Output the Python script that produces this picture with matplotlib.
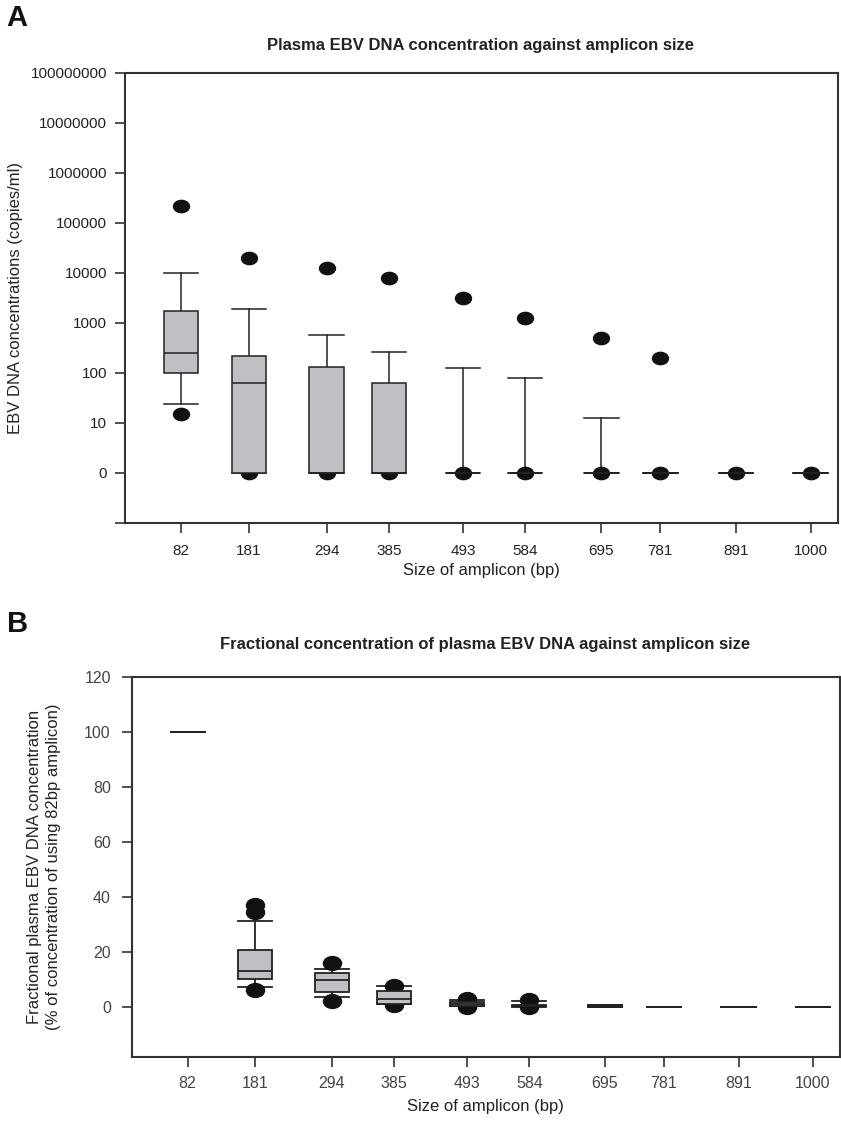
import matplotlib
matplotlib.use("Agg")
import matplotlib.pyplot as plt
from matplotlib.path import Path
from matplotlib.transforms import Affine2D
from matplotlib.ticker import FixedLocator, FixedFormatter

plt.rcParams['font.family'] = ['Liberation Sans', 'DejaVu Sans']

# amplicon sizes (bp)
sizes = [82, 181, 294, 385, 493, 584, 695, 781, 891, 1000]

# Panel A: plasma EBV DNA (copies/ml), 0 drawn at the "0" line
a_whislo = [24, 0, 0, 0, 0, 0, 0, 0, 0, 0]
a_q1 = [100, 0, 0, 0, 0, 0, 0, 0, 0, 0]
a_med = [250, 63, 0, 0, 0, 0, 0, 0, 0, 0]
a_q3 = [1700, 220, 130, 64, 0, 0, 0, 0, 0, 0]
a_whishi = [10000, 1900, 575, 263, 128, 81, 12.8, 0, 0, 0]
a_fliers = [[215000, 15], [20000, 0], [12300, 0], [7800, 0], [3160, 0],
            [1260, 0], [500, 0], [200, 0], [0], [0]]

# Panel B: fractional concentration (% of 82bp)
b_whislo = [100, 7.3, 3.6, 1.3, 0.3, 0.1, 0.2, 0, 0, 0]
b_q1 = [100, 10.2, 5.6, 1.3, 0.5, 0.3, 0.2, 0, 0, 0]
b_med = [100, 13.1, 9.7, 2.8, 1.0, 0.5, 0.5, 0, 0, 0]
b_q3 = [100, 20.6, 12.4, 5.8, 1.8, 0.8, 0.8, 0, 0, 0]
b_whishi = [100, 31.3, 14.0, 7.5, 2.4, 2.2, 0.8, 0, 0, 0]
b_fliers = [[], [37.0, 34.7, 6.3], [16.1, 2.1], [7.5, 0.6], [2.8, 0.0],
            [2.5, 0.0], [], [], [], []]

a_yticks = [1, 10, 100, 1000, 10000, 100000, 1000000, 10000000, 100000000]
a_ylabels = ['0', '10', '100', '1000', '10000', '100000', '1000000',
             '10000000', '100000000']
b_yticks = [0, 20, 40, 60, 80, 100, 120]

# ellipse marker (wider than tall)
ell = Path.unit_circle().transformed(Affine2D().scale(1.3, 1.0))

grey = '#c0c0c4'
spine_c = '#333333'


def z(v):
    # zero values sit on the "0" line (=1) of the log axis
    return v if v > 0 else 1


def make_stats(lo, q1, med, q3, hi, fl, fix=None):
    f = fix or (lambda v: v)
    out = []
    for i in range(len(sizes)):
        out.append(dict(whislo=f(lo[i]), q1=f(q1[i]), med=f(med[i]),
                        q3=f(q3[i]), whishi=f(hi[i]),
                        fliers=[f(v) for v in fl[i]]))
    return out


def draw(ax, stats, lw, ms):
    ax.bxp(stats, positions=sizes, widths=50, capwidths=50,
           patch_artist=True, manage_ticks=False,
           boxprops=dict(facecolor=grey, edgecolor='#222222', linewidth=lw,
                         zorder=3),
           medianprops=dict(color='#222222', linewidth=lw, zorder=3.5),
           whiskerprops=dict(color='#222222', linewidth=lw),
           capprops=dict(color='#222222', linewidth=lw),
           flierprops=dict(marker=ell, markerfacecolor='#111111',
                           markeredgecolor='#111111', markersize=ms,
                           zorder=2.5))


def style(ax, ypad):
    for s in ax.spines.values():
        s.set_color(spine_c)
        s.set_linewidth(1.5)
    ax.tick_params(direction='out', length=7, width=1.2, color=spine_c,
                   labelsize=11, labelcolor='#222222')
    ax.tick_params(axis='y', pad=ypad)
    ax.set_xlim(0, 1040)
    ax.set_xticks(sizes)
    ax.set_xticklabels([str(s) for s in sizes])


fig = plt.figure(figsize=(8.41, 11.21), dpi=100)

# ---- Panel A
axA = fig.add_axes([0.1486, 0.5335, 0.8478, 0.4014])
axA.set_yscale('log')
draw(axA, make_stats(a_whislo, a_q1, a_med, a_q3, a_whishi, a_fliers, z),
     1.1, 11.5)
axA.set_ylim(0.1, 1e8)
style(axA, 6)
axA.yaxis.set_major_locator(FixedLocator(a_yticks + [0.1]))
axA.yaxis.set_major_formatter(FixedFormatter(a_ylabels + ['']))
axA.yaxis.set_minor_locator(FixedLocator([]))
axA.tick_params(axis='x', pad=8)
axA.set_xlabel('Size of amplicon (bp)', fontsize=12, color='#222222', labelpad=4)
axA.set_ylabel('EBV DNA concentrations (copies/ml)', fontsize=12,
               color='#222222', labelpad=5)
fig.text(0.571, 0.959, 'Plasma EBV DNA concentration against amplicon size',
         ha='center', va='center', fontsize=12, fontweight='bold',
         color='#222222')
fig.text(0.008, 0.984, 'A', ha='left', va='center', fontsize=21,
         fontweight='bold', color='#111111')

# ---- Panel B
axB = fig.add_axes([0.1566, 0.0574, 0.8422, 0.339])
draw(axB, make_stats(b_whislo, b_q1, b_med, b_q3, b_whishi, b_fliers),
     1.3, 13)
axB.set_ylim(-18, 120)
style(axB, 8)
axB.set_yticks(b_yticks)
axB.set_yticklabels([str(v) for v in b_yticks])
axB.tick_params(labelcolor='#444444', labelsize=11.5)
axB.tick_params(axis='x', pad=7)
axB.set_xlabel('Size of amplicon (bp)', fontsize=12, color='#222222', labelpad=6)
axB.set_ylabel('Fractional plasma EBV DNA concentration\n'
               '(% of concentration of using 82bp amplicon)',
               fontsize=12, color='#222222', labelpad=17, linespacing=1.3)
fig.text(0.577, 0.425,
         'Fractional concentration of plasma EBV DNA against amplicon size',
         ha='center', va='center', fontsize=12, fontweight='bold',
         color='#222222')
fig.text(0.008, 0.443, 'B', ha='left', va='center', fontsize=21,
         fontweight='bold', color='#111111')

fig.savefig('out.png', dpi=100)
